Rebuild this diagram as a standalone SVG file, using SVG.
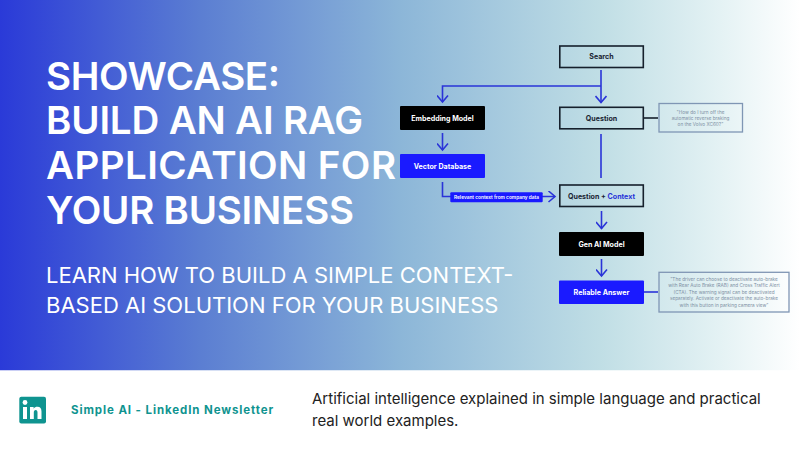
<svg xmlns="http://www.w3.org/2000/svg" width="800" height="450" viewBox="0 0 800 450">
<defs>
<linearGradient id="bg" x1="0" y1="0" x2="1" y2="0">
<stop offset="0" stop-color="#2a3ad8"/>
<stop offset="0.25" stop-color="#5b7ed2"/>
<stop offset="0.5" stop-color="#8cb6d8"/>
<stop offset="0.75" stop-color="#c0dee5"/>
<stop offset="0.9" stop-color="#e4f2f4"/>
<stop offset="1" stop-color="#ffffff"/>
</linearGradient>
<marker id="arr" viewBox="0 0 12 12" refX="10" refY="6" markerWidth="12" markerHeight="12" markerUnits="userSpaceOnUse" orient="auto">
<path d="M3.500 0.500 L10 6 L3.500 11.500" fill="none" stroke="#2a34d8" stroke-width="1.6"/>
</marker>
<style>
text{font-family:"Inter","Liberation Sans",sans-serif}
.h{font-size:38.500px;font-weight:600;fill:#fff}
.s{font-size:22px;font-weight:400;fill:#fff}
.n{font-size:7.100px;font-weight:700;text-anchor:middle;fill:#1b2433}
.w{fill:#fff}
.c{fill:none;stroke:#2a34d8;stroke-width:1.6}
.q{fill:none;stroke:#16202c;stroke-width:1.600}
.k{fill:#000}
.b{fill:#1a1aff}
.note{fill:none;stroke:#7f96b4;stroke-width:1.300}
.nt{font-size:4.700px;text-anchor:middle;fill:#7d8fa3}
</style>
</defs>
<rect width="800" height="370.500" fill="url(#bg)"/>
<rect y="370.500" width="800" height="79.500" fill="#fff"/>
<g id="title">
<text class="h" x="46" y="89.500" textLength="234" lengthAdjust="spacing">SHOWCASE:</text>
<text class="h" x="46" y="134" textLength="317" lengthAdjust="spacing">BUILD AN AI RAG</text>
<text class="h" x="46" y="178.500" textLength="350" lengthAdjust="spacing">APPLICATION FOR</text>
<text class="h" x="46" y="223.500" textLength="308" lengthAdjust="spacing">YOUR BUSINESS</text>
<text class="s" x="46" y="283">LEARN HOW TO BUILD A SIMPLE CONTEXT-</text>
<text class="s" x="46" y="313">BASED AI SOLUTION FOR YOUR BUSINESS</text>
</g>
<g id="connectors">
<path class="c" d="M601 70V102.500" marker-end="url(#arr)"/>
<path class="c" d="M601 86H442.500V102" marker-end="url(#arr)"/>
<path class="c" d="M442.500 133V150" marker-end="url(#arr)"/>
<path class="c" d="M601 134V178"/>
<path class="c" d="M442.500 182V196.500H555" marker-end="url(#arr)"/>
<path class="c" d="M601.500 211V228.500" marker-end="url(#arr)"/>
<path class="c" d="M601.500 259V276" marker-end="url(#arr)"/>
<path class="q" d="M644 118H658"/>
<path class="c" d="M644 292H658"/>
</g>
<g id="search"><rect class="q" x="559.800" y="46" width="83.500" height="21.500"/><text class="n" x="601.500" y="59">Search</text></g>
<g id="embedding"><rect class="k" x="400" y="106" width="85" height="24" rx="1"/><text class="n w" x="442.500" y="120.500">Embedding Model</text></g>
<g id="question"><rect class="q" x="559.800" y="107.300" width="83.500" height="21.500"/><text class="n" x="601.500" y="120.500">Question</text></g>
<g id="q-note"><rect class="note" x="659" y="103.500" width="83.500" height="28.500"/><text class="nt"><tspan x="700.500" y="113.500">"How do I turn off the</tspan><tspan x="700.500" y="120">automatic reverse braking</tspan><tspan x="700.500" y="126">on the Volvo XC60?"</tspan></text></g>
<g id="vector"><rect class="b" x="400" y="154" width="85" height="24" rx="1"/><text class="n w" x="442.500" y="168.500">Vector Database</text></g>
<g id="context-label"><rect class="b" x="450.300" y="192.300" width="92.400" height="10" rx="1"/><text x="496.500" y="199" font-size="4.800" font-weight="600" fill="#fff" text-anchor="middle">Relevant context from company data</text></g>
<g id="question-context"><rect class="q" x="559.800" y="185" width="83.500" height="21.500"/><text class="n" x="601.500" y="198.500">Question + <tspan fill="#2a34d8">Context</tspan></text></g>
<g id="gen"><rect class="k" x="559" y="232" width="85" height="24" rx="1"/><text class="n w" x="601.500" y="246.500">Gen AI Model</text></g>
<g id="answer"><rect class="b" x="559" y="280.500" width="85" height="23.500" rx="1"/><text class="n w" x="601.500" y="294.500">Reliable Answer</text></g>
<g id="a-note"><rect class="note" x="659" y="272.300" width="130" height="39.700"/><text class="nt"><tspan x="724" y="281">"The driver can choose to deactivate auto-brake</tspan><tspan x="724" y="287.400">with Rear Auto Brake (RAB) and Cross Traffic Alert</tspan><tspan x="724" y="293.700">(CTA). The warning signal can be deactivated</tspan><tspan x="724" y="300.300">separately. Activate or deactivate the auto-brake</tspan><tspan x="724" y="306.600">with this button in parking camera view"</tspan></text></g>
<g id="footer">
<rect x="19.300" y="396.700" width="26.700" height="26.700" rx="2" fill="#0f9490"/>
<rect x="23" y="407" width="4" height="12" fill="#fff"/><circle cx="25" cy="402.500" r="2.400" fill="#fff"/>
<path d="M30 407h3.600v1.800c.9-1.400 2.200-2 3.800-2 2.900 0 4.100 1.800 4.100 4.800V419h-4v-6.400c0-1.600-.5-2.500-1.800-2.500s-1.900 1-1.900 2.500V419H30z" fill="#fff"/>
<text x="71" y="414" font-size="11.500" font-weight="700" letter-spacing=".9" fill="#0f9490">Simple AI - LinkedIn Newsletter</text>
<text x="312" y="404" font-size="15" fill="#222">Artificial intelligence explained in simple language and practical</text>
<text x="312" y="426" font-size="15" fill="#222">real world examples.</text>
</g>
</svg>
